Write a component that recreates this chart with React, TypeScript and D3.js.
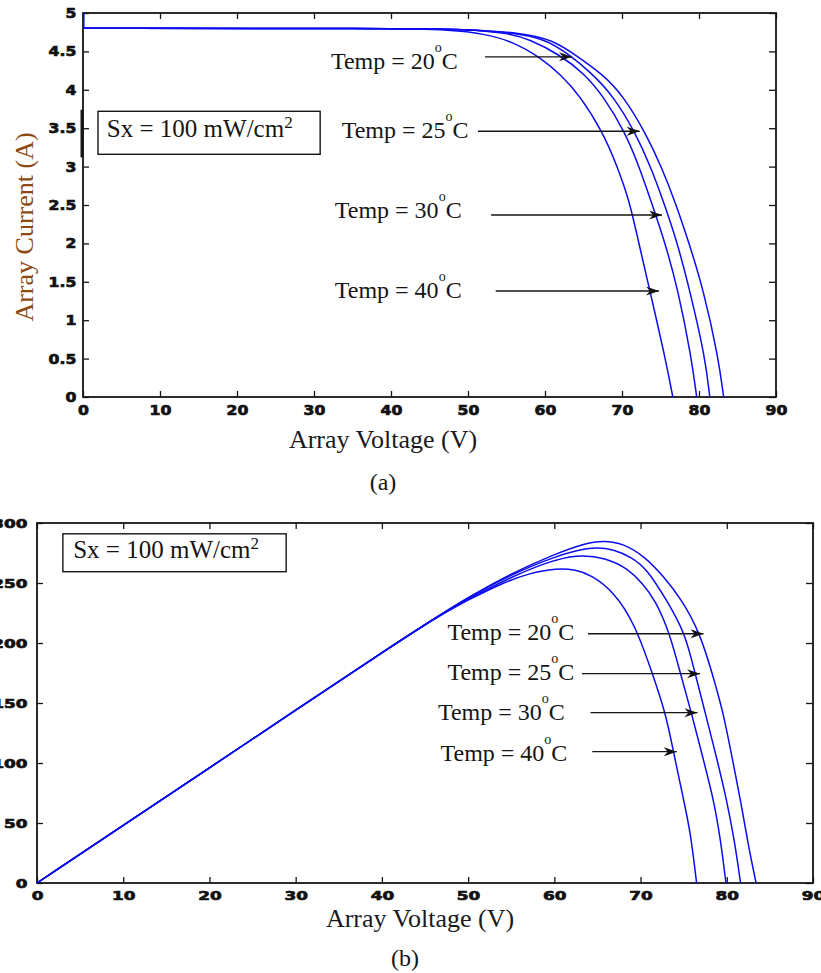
import React, { useRef, useEffect } from 'react';
import * as d3 from 'd3';

const W = 821;
const H = 973;

const tempLabels = ['20', '25', '30', '40'];

// (a) I-V curves (V, A)
const ivVolt20 = [0, 40, 50, 57, 61, 64, 67.5, 70.1, 73, 75.2, 76.9, 78.6, 80.6, 82.5, 83.2];
const ivAmp20 = [4.8, 4.8, 4.79, 4.74, 4.65, 4.45, 4.2, 3.93, 3.45, 2.98, 2.54, 2.04, 1.39, 0.52, 0];
const ivVolt25 = [0, 40, 50, 56, 60, 63, 66, 68.8, 71.7, 73.8, 75.4, 77.1, 78.8, 80.8, 81.4];
const ivAmp25 = [4.8, 4.8, 4.79, 4.74, 4.66, 4.47, 4.22, 3.93, 3.45, 2.98, 2.54, 2.04, 1.39, 0.52, 0];
const ivVolt30 = [0, 40, 50, 55, 58, 62, 65, 67.5, 70.4, 72.3, 73.8, 75.5, 77.3, 79.0, 79.7];
const ivAmp30 = [4.8, 4.8, 4.79, 4.74, 4.66, 4.45, 4.22, 3.93, 3.45, 2.98, 2.54, 2.04, 1.39, 0.52, 0];
const ivVolt40 = [0, 40, 48, 52, 55.8, 59.4, 62, 64.5, 67.5, 69.4, 71, 72.1, 73.6, 75.6, 76.6];
const ivAmp40 = [4.8, 4.8, 4.78, 4.73, 4.63, 4.42, 4.2, 3.93, 3.45, 3.0, 2.54, 2.04, 1.39, 0.52, 0];
// short vertical start of the curves along the current axis
const ivStartAmp = [5, 4.8];

// (b) P-V curves (V, W)
const pvVolt20 = [0, 10, 20, 30, 40, 46, 50, 55, 60, 63.5, 65.7, 68, 70.5, 72.6, 74.8, 76.9, 78.3, 79.6, 80.6, 81.6, 82.5, 83.4];
const pvWatt20 = [0, 48, 96, 144, 192, 220, 238, 258, 274, 283, 285.5, 283, 272, 256, 236, 208, 175, 142, 105, 69, 31, 0];
const pvVolt25 = [0, 10, 20, 30, 40, 46, 50, 55, 60, 64.2, 67, 69, 70.7, 73, 75.2, 76.3, 77.5, 78.8, 80, 80.9, 81.6];
const pvWatt25 = [0, 48, 96, 144, 192, 220, 238, 257, 272, 280.5, 278, 271, 262, 236, 208, 175, 142, 105, 69, 35, 0];
const pvVolt30 = [0, 10, 20, 30, 40, 46, 50, 55, 59, 62.6, 66, 68.5, 70.2, 71.7, 73.4, 74.6, 75.9, 77.2, 78.5, 79.3, 79.9];
const pvWatt30 = [0, 48, 96, 144, 192, 220, 237, 255, 267, 274, 271, 262, 250, 236, 208, 175, 142, 105, 69, 35, 0];
const pvVolt40 = [0, 10, 20, 30, 40, 46, 50, 54, 57, 60.3, 62.5, 64.2, 66.9, 69.4, 71.3, 72.9, 73.8, 75, 75.8, 76.5];
const pvWatt40 = [0, 48, 96, 144, 192, 220, 236, 250, 258, 262.5, 261, 257, 243, 215, 176, 142, 110, 69, 42, 0];

const voltTicks = [0, 10, 20, 30, 40, 50, 60, 70, 80, 90];
const ampTicks = [0, 0.5, 1, 1.5, 2, 2.5, 3, 3.5, 4, 4.5, 5];
const wattTicks = [0, 50, 100, 150, 200, 250, 300];

// annotation anchors in data units
const ivLabelVolt = [32.2, 33.6, 32.7, 32.7];
const ivLabelAmp = [4.27, 3.37, 2.33, 1.29];
const ivArrowFrom = [52.2, 51.3, 53, 53.6];
const ivArrowTo = [63.5, 72.3, 75.2, 74.8];
const ivArrowAmp = [4.43, 3.46, 2.37, 1.38];

const pvLabelVolt = [47.6, 47.6, 46.5, 46.8];
const pvLabelWatt = [202.8, 169.4, 135.5, 101.3];
const pvArrowFrom = [63.9, 63.2, 64.2, 64.4];
const pvArrowTo = [77.3, 76.9, 76.6, 74.2];
const pvArrowWatt = [207.7, 174.4, 141.9, 109.4];

const serif = "'Liberation Serif', 'Times New Roman', serif";
const blue = '#0c0cee';
const ink = '#151515';

function tempText(g, x, y, t) {
  const tx = g.append('text')
    .attr('x', x).attr('y', y)
    .attr('font-family', serif).attr('font-size', 24).attr('fill', ink);
  tx.append('tspan').text(`Temp = ${t}`);
  tx.append('tspan').attr('font-size', 14).attr('dy', -17).text('o');
  tx.append('tspan').attr('dy', 17).text('C');
}

function drawPanel(svg, cfg) {
  const { box, yDomain, yTicks, curves, labels, sxBox, tickFont, stretch, yPad } = cfg;
  const x = d3.scaleLinear().domain([0, 90]).range([box.left, box.right]);
  const y = d3.scaleLinear().domain(yDomain).range([box.bottom, box.top]);
  const g = svg.append('g');

  const styleAxis = sel => {
    sel.select('.domain').remove();
    sel.selectAll('.tick line').attr('stroke', ink).attr('stroke-width', 1.3);
    sel.selectAll('.tick text')
      .attr('font-family', "'DejaVu Sans', sans-serif")
      .attr('font-weight', 'bold')
      .attr('font-size', tickFont)
      .attr('fill', '#111')
      .attr('stroke', '#111')
      .attr('stroke-width', 0.7)
      .attr('transform', `scale(${stretch},1)`);
  };

  g.append('g').attr('transform', `translate(0,${box.bottom})`)
    .call(d3.axisBottom(x).tickValues(voltTicks).tickSize(-6).tickPadding(8).tickFormat(d3.format('d')))
    .call(styleAxis);
  g.append('g').attr('transform', `translate(0,${box.top})`)
    .call(d3.axisTop(x).tickValues(voltTicks).tickSize(-6).tickFormat(() => ''))
    .call(styleAxis);
  g.append('g').attr('transform', `translate(${box.left},0)`)
    .call(d3.axisLeft(y).tickValues(yTicks).tickSize(-6).tickPadding(yPad).tickFormat(d => String(d)))
    .call(styleAxis);
  g.append('g').attr('transform', `translate(${box.right},0)`)
    .call(d3.axisRight(y).tickValues(yTicks).tickSize(-7).tickFormat(() => ''))
    .call(styleAxis);

  g.append('rect')
    .attr('x', box.left).attr('y', box.top)
    .attr('width', box.right - box.left).attr('height', box.bottom - box.top)
    .attr('fill', 'none').attr('stroke', ink).attr('stroke-width', 1.8);

  if (cfg.mark) {
    g.append('line')
      .attr('x1', x(0) - 1).attr('x2', x(0) - 1)
      .attr('y1', y(cfg.mark[0])).attr('y2', y(cfg.mark[1]))
      .attr('stroke', ink).attr('stroke-width', 3);
  }

  if (cfg.start) {
    g.append('line')
      .attr('x1', x(0) + 0.8).attr('x2', x(0) + 0.8)
      .attr('y1', y(cfg.start[0])).attr('y2', y(cfg.start[1]))
      .attr('stroke', blue).attr('stroke-width', 1.5);
  }

  const line = d3.line()
    .x(d => x(d[0]))
    .y(d => y(d[1]))
    .curve(d3.curveBasis);

  g.selectAll('path.curve')
    .data(curves)
    .join('path')
    .attr('class', 'curve')
    .attr('d', d => line(d))
    .attr('fill', 'none')
    .attr('stroke', blue)
    .attr('stroke-width', 1.5);

  // Sx box
  const bx = x(sxBox.v0), by = y(sxBox.y0);
  g.append('rect')
    .attr('x', bx).attr('y', by)
    .attr('width', x(sxBox.v1) - bx).attr('height', y(sxBox.y1) - by)
    .attr('fill', 'white').attr('stroke', ink).attr('stroke-width', 1.4);
  const st = g.append('text')
    .attr('x', x(sxBox.tv)).attr('y', y(sxBox.ty))
    .attr('font-family', serif).attr('font-size', 25).attr('fill', ink);
  st.append('tspan').text('Sx = 100 mW/cm');
  st.append('tspan').attr('font-size', 17).attr('dy', -9).text('2');

  // temperature labels + arrows
  labels.forEach(l => {
    tempText(g, x(l.tv), y(l.ty), l.t);
    g.append('line')
      .attr('x1', x(l.a0)).attr('x2', x(l.a1))
      .attr('y1', y(l.ay)).attr('y2', y(l.ay))
      .attr('stroke', ink).attr('stroke-width', 1.3)
      .attr('marker-end', 'url(#arrow)');
  });

  return { x, y };
}

const App = () => {
  const svgRef = useRef(null);

  useEffect(() => {
    const svg = d3.select(svgRef.current);
    svg.selectAll('*').remove();

    svg.append('defs').append('marker')
      .attr('id', 'arrow')
      .attr('markerUnits', 'userSpaceOnUse')
      .attr('markerWidth', 14).attr('markerHeight', 10)
      .attr('refX', 13).attr('refY', 5)
      .attr('orient', 'auto')
      .append('path')
      .attr('d', 'M0,0.5 L13,5 L0,9.5 L4,5 Z')
      .attr('fill', '#111');

    const zip = (a, b) => a.map((v, i) => [v, b[i]]);

    // (a) current vs voltage
    drawPanel(svg, {
      box: { left: 83, right: 776, top: 13, bottom: 397 },
      yDomain: [0, 5],
      yTicks: ampTicks,
      tickFont: 14,
      stretch: 1.12,
      yPad: 6,
      mark: [3.74, 3.12],
      start: ivStartAmp,
      curves: [
        zip(ivVolt20, ivAmp20),
        zip(ivVolt25, ivAmp25),
        zip(ivVolt30, ivAmp30),
        zip(ivVolt40, ivAmp40),
      ],
      labels: tempLabels.map((t, i) => ({
        t, tv: ivLabelVolt[i], ty: ivLabelAmp[i],
        a0: ivArrowFrom[i], a1: ivArrowTo[i], ay: ivArrowAmp[i],
      })),
      sxBox: { v0: 1.95, v1: 30.8, y0: 3.72, y1: 3.16, tv: 3.1, ty: 3.385 },
    });

    // (b) power vs voltage
    drawPanel(svg, {
      box: { left: 37, right: 813, top: 523, bottom: 883 },
      yDomain: [0, 300],
      yTicks: wattTicks,
      tickFont: 13,
      stretch: 1.3,
      yPad: 7.3,
      curves: [
        zip(pvVolt20, pvWatt20),
        zip(pvVolt25, pvWatt25),
        zip(pvVolt30, pvWatt30),
        zip(pvVolt40, pvWatt40),
      ],
      labels: tempLabels.map((t, i) => ({
        t, tv: pvLabelVolt[i], ty: pvLabelWatt[i],
        a0: pvArrowFrom[i], a1: pvArrowTo[i], ay: pvArrowWatt[i],
      })),
      sxBox: { v0: 3.0, v1: 28.9, y0: 291, y1: 259.4, tv: 4.2, ty: 271 },
    });

    // titles
    const titles = svg.append('g').attr('font-family', serif);
    titles.append('text')
      .attr('x', 383).attr('y', 448)
      .attr('text-anchor', 'middle').attr('font-size', 26).attr('fill', '#1a1a22')
      .text('Array Voltage (V)');
    titles.append('text')
      .attr('transform', 'translate(33,227) rotate(-90)')
      .attr('text-anchor', 'middle').attr('font-size', 26).attr('fill', '#8c4a12')
      .text('Array Current (A)');
    titles.append('text')
      .attr('x', 383).attr('y', 490)
      .attr('text-anchor', 'middle').attr('font-size', 24).attr('fill', ink)
      .text('(a)');
    titles.append('text')
      .attr('x', 420).attr('y', 927)
      .attr('text-anchor', 'middle').attr('font-size', 26).attr('fill', '#1a1a22')
      .text('Array Voltage (V)');
    titles.append('text')
      .attr('x', 405).attr('y', 966)
      .attr('text-anchor', 'middle').attr('font-size', 24).attr('fill', ink)
      .text('(b)');
  }, []);

  return (
    <svg
      ref={svgRef}
      width={W}
      height={H}
      viewBox={`0 0 ${W} ${H}`}
      style={{ position: 'absolute', left: 0, top: 0, display: 'block', background: 'white' }}
    />
  );
};

export default App;
